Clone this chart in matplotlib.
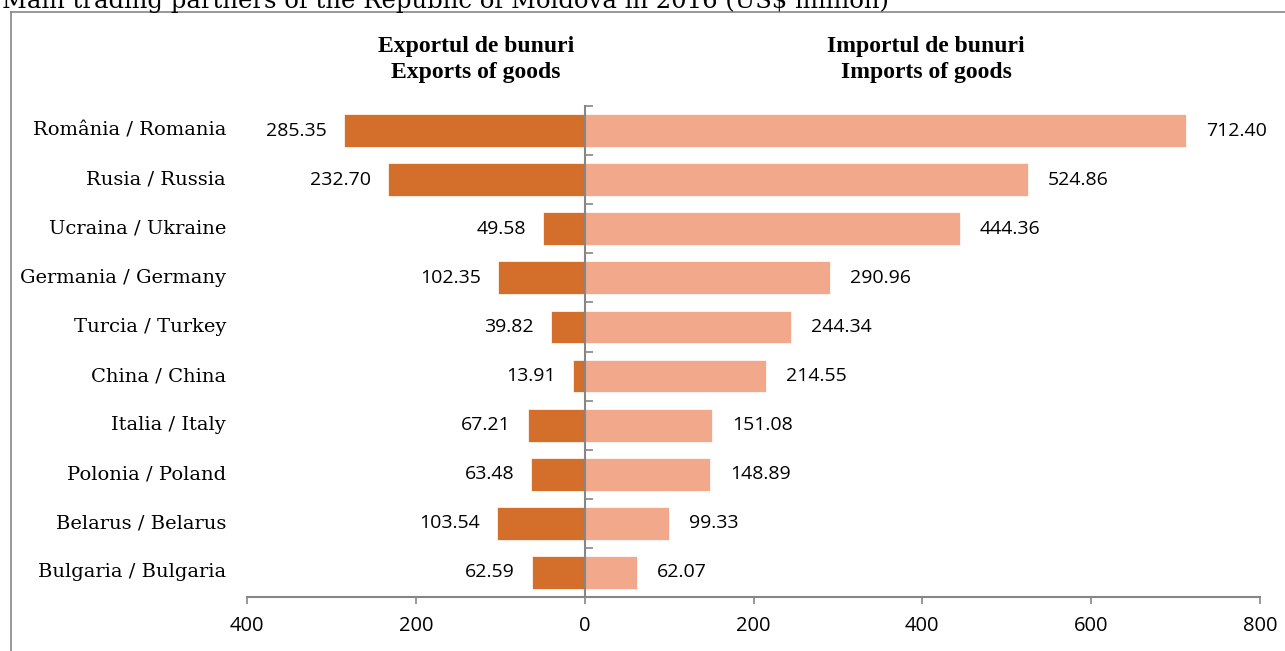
import numpy as np
import matplotlib
matplotlib.use('Agg')
import matplotlib.pyplot as plt
from matplotlib.transforms import blended_transform_factory

# Main trading partners of the Republic of Moldova in 2016
countries = ['România / Romania', 'Rusia / Russia', 'Ucraina / Ukraine', 'Germania / Germany',
             'Turcia / Turkey', 'China / China', 'Italia / Italy', 'Polonia / Poland',
             'Belarus / Belarus', 'Bulgaria / Bulgaria']
exports = [285.35, 232.70, 49.58, 102.35, 39.82, 13.91, 67.21, 63.48, 103.54, 62.59]
imports = [712.40, 524.86, 444.36, 290.96, 244.34, 214.55, 151.08, 148.89, 99.33, 62.07]
xticks = [-400, -200, 0, 200, 400, 600, 800]
xticklabels = ['400', '200', '0', '200', '400', '600', '800']

exp_color = '#D36E2B'
imp_color = '#F2A98B'
axis_color = '#868686'
serif = ['DejaVu Serif']
sans = ['Open Sans', 'DejaVu Sans']

fig = plt.figure(figsize=(12.85, 6.51), dpi=100)
ax = fig.add_axes([247/1285, 1 - 597/651, 1013/1285, 491/651])

y = np.arange(len(countries))
ax.barh(y, -np.array(exports), height=0.67, color=exp_color, edgecolor='white', linewidth=0.5)
ax.barh(y, imports, height=0.67, color=imp_color, edgecolor='white', linewidth=0.5)

ax.set_xlim(-400, 800)
ax.set_ylim(len(countries) - 0.5, -0.5)

# value labels
for yi, e, im in zip(y, exports, imports):
    ax.annotate(f'{e:.2f}', (-e, yi), xytext=(-17, 0), textcoords='offset pixels',
                ha='right', va='center', fontsize=14, family=sans)
    ax.annotate(f'{im:.2f}', (im, yi), xytext=(20, 0), textcoords='offset pixels',
                ha='left', va='center', fontsize=14, family=sans)

# category labels
trans = blended_transform_factory(ax.transAxes, ax.transData)
for yi, c in zip(y, countries):
    ax.text(-0.0207, yi, c, transform=trans, ha='right', va='center',
            fontsize=14, family=serif)

# spines
for s in ['top', 'right']:
    ax.spines[s].set_visible(False)
ax.spines['left'].set_position(('data', 0))
ax.spines['left'].set_color(axis_color)
ax.spines['left'].set_linewidth(1.5)
ax.spines['bottom'].set_color(axis_color)
ax.spines['bottom'].set_linewidth(1.5)

ax.set_yticks(np.arange(-0.5, len(countries), 1.0))
ax.set_yticklabels([])
ax.tick_params(axis='y', direction='in', length=5.5, width=1.2, color=axis_color)
ax.set_xticks(xticks)
ax.set_xticklabels(xticklabels, fontsize=14.5, family=sans)
ax.tick_params(axis='x', direction='out', length=5, width=1.2, color=axis_color, pad=9)

# headings
head_kw = dict(ha='center', va='baseline', fontsize=17, fontweight='bold', family=['Liberation Serif'])
fig.text(476/1285, 1 - 52/651, 'Exportul de bunuri', **head_kw)
fig.text(476/1285, 1 - 78/651, 'Exports of goods', **head_kw)
fig.text(926/1285, 1 - 52/651, 'Importul de bunuri', **head_kw)
fig.text(926/1285, 1 - 78/651, 'Imports of goods', **head_kw)

# title (cropped at top) and outer frame
fig.text(2/1285, 1 - 8/651, 'Main trading partners of the Republic of Moldova in 2016 (US$ million)',
         ha='left', va='baseline', fontsize=17.5, family=serif)
fig.add_artist(plt.Line2D([11/1285, 11/1285], [0, 1 - 12/651], transform=fig.transFigure,
                          color=axis_color, linewidth=1.2))
fig.add_artist(plt.Line2D([11/1285, 1], [1 - 12/651, 1 - 12/651], transform=fig.transFigure,
                          color=axis_color, linewidth=1.2))

fig.savefig('out.png', dpi=100)
